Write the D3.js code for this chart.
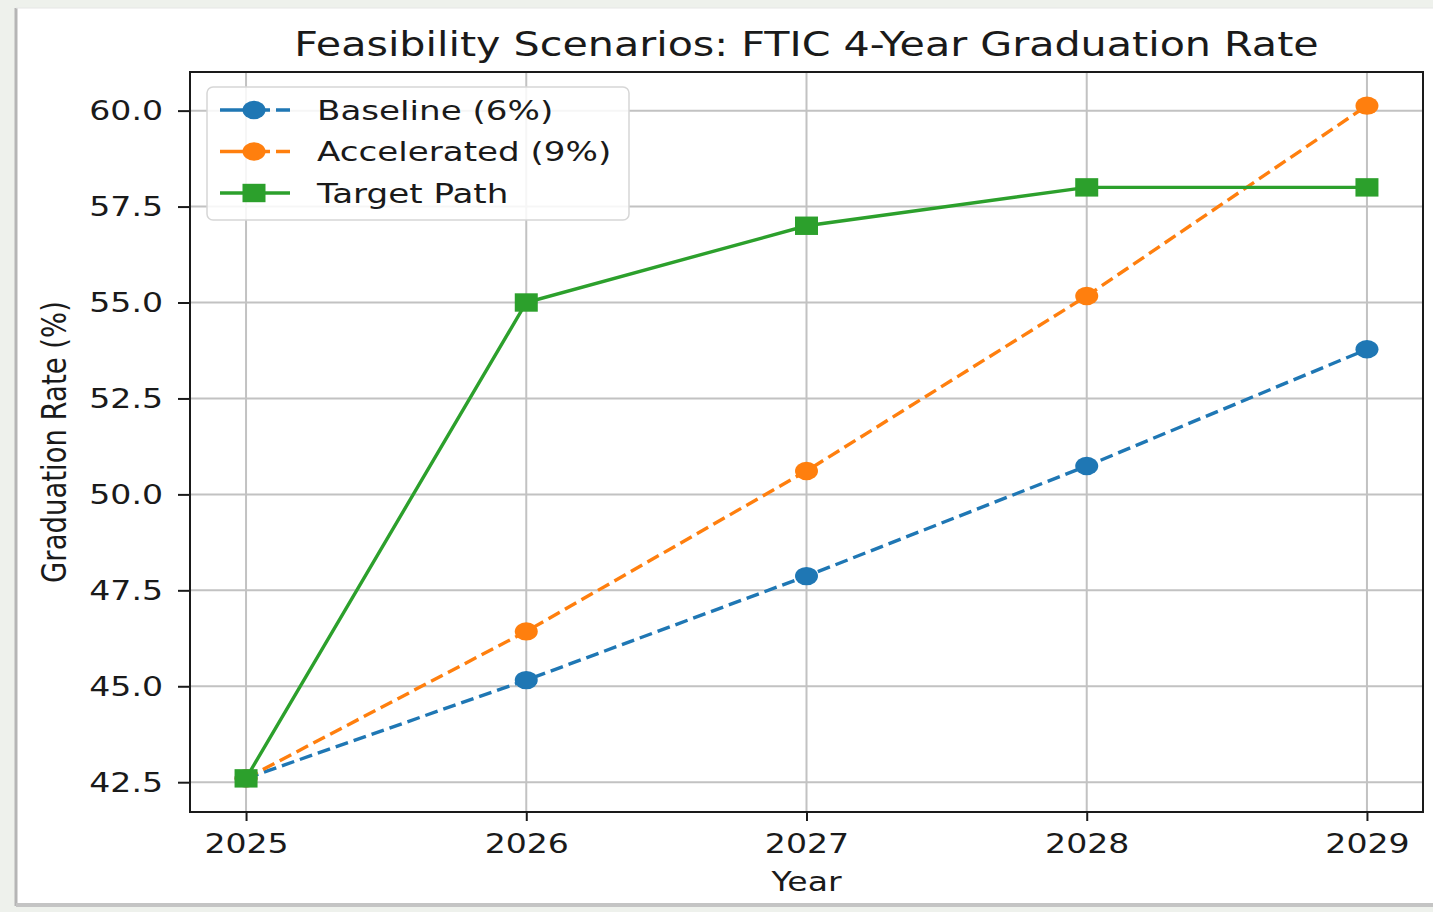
<!DOCTYPE html>
<html lang="en">
<head>
<meta charset="UTF-8">
<title>Feasibility Scenarios</title>
<style>
  body { margin: 0; background: #eef1ec; }
  svg { display: block; }
  text { font-family: "DejaVu Sans", sans-serif; fill: #1a1a1a; }
</style>
</head>
<body>
<svg id="chart" width="1433" height="912"></svg>
<script src="https://d3js.org/d3.v7.min.js"></script>
<script>
// data
var years = [2025, 2026, 2027, 2028, 2029];
var baseline = [42.6, 45.16, 47.87, 50.74, 53.78];
var accelerated = [42.6, 46.43, 50.61, 55.17, 60.13];
var target = [42.6, 55.0, 57.0, 58.0, 58.0];
var yTicks = [42.5, 45.0, 47.5, 50.0, 52.5, 55.0, 57.5, 60.0];
var seriesNames = ["Baseline (6%)", "Accelerated (9%)", "Target Path"];

var series = [
  {name: seriesNames[0], values: baseline, color: "#1f77b4", dash: "13,6", marker: "circle"},
  {name: seriesNames[1], values: accelerated, color: "#ff7f0e", dash: "13,6", marker: "circle"},
  {name: seriesNames[2], values: target, color: "#2ca02c", dash: null, marker: "square"}
];

var sx = 1.25; // the picture is stretched sideways
var fs = 26.5;

var svg = d3.select("#chart");

// white panel of the screenshot
svg.append("rect").attr("x", 16).attr("y", 8).attr("width", 1420).attr("height", 897).attr("fill", "#fff");
svg.append("line").attr("x1", 16).attr("x2", 16).attr("y1", 8).attr("y2", 906).attr("stroke", "#b5b5b5").attr("stroke-width", 3);
svg.append("line").attr("x1", 16).attr("x2", 1433).attr("y1", 905).attr("y2", 905).attr("stroke", "#c4c4c4").attr("stroke-width", 4);
svg.append("line").attr("x1", 16).attr("x2", 1433).attr("y1", 8).attr("y2", 8).attr("stroke", "#e6e6e6").attr("stroke-width", 1);

var mLeft = 190, mRight = 1423, mTop = 72, mBottom = 812;

var xPad = (d3.max(years) - d3.min(years)) * 0.05;
var x = d3.scaleLinear()
    .domain([d3.min(years) - xPad, d3.max(years) + xPad])
    .range([mLeft, mRight]);

var all = baseline.concat(accelerated, target);
var yPad = (d3.max(all) - d3.min(all)) * 0.05;
var y = d3.scaleLinear()
    .domain([d3.min(all) - yPad, d3.max(all) + yPad])
    .range([mBottom, mTop]);

// grid
var grid = svg.append("g").attr("class", "grid");
grid.selectAll(".gx").data(years).enter().append("line")
    .attr("x1", function(d){ return x(d); }).attr("x2", function(d){ return x(d); })
    .attr("y1", mTop).attr("y2", mBottom)
    .attr("stroke", "#c2c2c2").attr("stroke-width", 2);
grid.selectAll(".gy").data(yTicks).enter().append("line")
    .attr("x1", mLeft).attr("x2", mRight)
    .attr("y1", function(d){ return y(d); }).attr("y2", function(d){ return y(d); })
    .attr("stroke", "#c2c2c2").attr("stroke-width", 2);

// axes
var xAxis = svg.append("g")
    .attr("transform", "translate(0," + mBottom + ")")
    .call(d3.axisBottom(x).tickValues(years).tickFormat(d3.format("d")).tickSize(9).tickSizeOuter(0));
var yAxis = svg.append("g")
    .attr("transform", "translate(" + mLeft + ",0)")
    .call(d3.axisLeft(y).tickValues(yTicks).tickFormat(d3.format(".1f")).tickSize(12).tickSizeOuter(0));

[xAxis, yAxis].forEach(function(a){
  a.select(".domain").remove();
  a.selectAll(".tick line").attr("stroke", "#1a1a1a").attr("stroke-width", 2);
  a.selectAll(".tick text")
      .attr("font-family", "DejaVu Sans")
      .attr("font-size", fs)
      .attr("fill", "#1a1a1a")
      .attr("transform", "scale(" + sx + ",1)");
});
xAxis.selectAll(".tick text").attr("y", 22).attr("dy", "0.71em");
yAxis.selectAll(".tick text").attr("x", -27 / sx).attr("dy", "0.35em");

// spines
svg.append("rect")
    .attr("x", mLeft).attr("y", mTop)
    .attr("width", mRight - mLeft).attr("height", mBottom - mTop)
    .attr("fill", "none").attr("stroke", "#1a1a1a").attr("stroke-width", 2);

// lines and markers
var line = d3.line()
    .x(function(d, i){ return x(years[i]); })
    .y(function(d){ return y(d); });

function drawMarker(g, kind, color, cx, cy) {
  if (kind === "circle") {
    g.append("ellipse").attr("cx", cx).attr("cy", cy).attr("rx", 11.5).attr("ry", 9.2).attr("fill", color);
  } else {
    g.append("rect").attr("x", cx - 11.5).attr("y", cy - 9.2).attr("width", 23).attr("height", 18.4).attr("fill", color);
  }
}

series.forEach(function(s){
  var g = svg.append("g");
  g.append("path")
      .attr("d", line(s.values))
      .attr("fill", "none")
      .attr("stroke", s.color)
      .attr("stroke-width", 3.4)
      .attr("stroke-dasharray", s.dash);
  s.values.forEach(function(v, i){
    drawMarker(g, s.marker, s.color, x(years[i]), y(v));
  });
});

// legend
var lg = svg.append("g");
lg.append("rect")
    .attr("x", 207).attr("y", 87).attr("width", 422).attr("height", 133)
    .attr("rx", 6).attr("fill", "#fff").attr("fill-opacity", 0.85)
    .attr("stroke", "#d6d6d6").attr("stroke-width", 1.5);
series.forEach(function(s, i){
  var cy = 110 + i * 41.5;
  lg.append("line")
      .attr("x1", 220).attr("x2", 290).attr("y1", cy).attr("y2", cy)
      .attr("stroke", s.color).attr("stroke-width", 3.4)
      .attr("stroke-dasharray", s.dash ? "50,6,14" : null);
  drawMarker(lg, s.marker, s.color, 254, cy);
  lg.append("text")
      .attr("transform", "translate(317," + cy + ") scale(" + sx + ",1)")
      .attr("dy", "0.35em")
      .attr("font-size", 27.3)
      .text(s.name);
});

// title and axis labels
svg.append("text")
    .attr("transform", "translate(" + (mLeft + mRight) / 2 + ",56) scale(" + sx + ",1)")
    .attr("text-anchor", "middle")
    .attr("font-size", 33)
    .text("Feasibility Scenarios: FTIC 4-Year Graduation Rate");

svg.append("text")
    .attr("transform", "translate(" + (mLeft + mRight) / 2 + ",891) scale(" + sx + ",1)")
    .attr("text-anchor", "middle")
    .attr("font-size", fs)
    .text("Year");

svg.append("text")
    .attr("transform", "translate(66," + (mTop + mBottom) / 2 + ") scale(" + sx + ",1) rotate(-90)")
    .attr("text-anchor", "middle")
    .attr("font-size", 27.5)
    .text("Graduation Rate (%)");
</script>
</body>
</html>
